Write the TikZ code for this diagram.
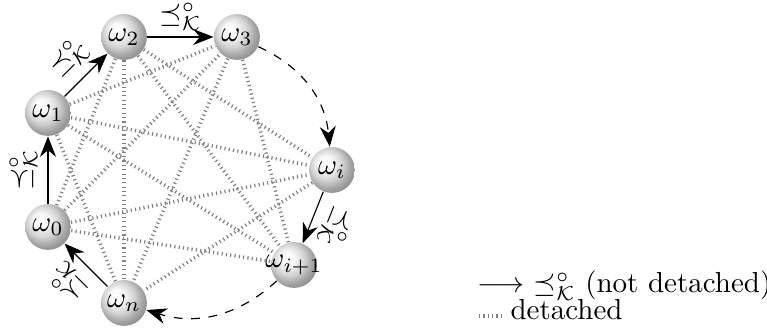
\documentclass[tikz,border=0pt]{standalone}
\usepackage{amsmath,amssymb}
\usetikzlibrary{arrows.meta,backgrounds}
\pgfdeclareradialshading{myball}{\pgfpoint{-9bp}{9bp}}{%
  color(0bp)=(white);
  color(8bp)=(white!97!black);
  color(17bp)=(white!83!black);
  color(24bp)=(white!66!black);
  color(30bp)=(white!55!black);
  color(50bp)=(white!45!black)}
\begin{document}
\begin{tikzpicture}[x=0.345pt,y=-0.345pt,
  ball/.style={circle,shading=myball,minimum size=15.8pt,inner sep=0pt},
  rel/.style={-{Stealth[length=7pt,width=5.5pt]},thin},
  det/.style={black!50,line width=1.2pt,dash pattern=on 0.4pt off 1.1pt},
  lbl/.style={sloped,above,allow upside down,inner sep=3.5pt}]
\useasboundingbox (0,0) rectangle (767,332);
\node[ball] (w2) at (124,37) {$\omega_2$};
\node[ball] (w3) at (237,37) {$\omega_3$};
\node[ball] (w1) at (48,113) {$\omega_1$};
\node[ball] (w0) at (48,227) {$\omega_0$};
\node[ball] (wn) at (124,303) {$\omega_n$};
\node[ball] (wi1) at (294,265) {\makebox[0pt]{$\omega_{i+1}$}};
\node[ball] (wi) at (332,170) {$\omega_i$};
\begin{scope}[on background layer]
\foreach \a/\b in {w0/w2,w0/w3,w0/wi,w0/wi1,w1/w3,w1/wi,w1/wi1,w1/wn,w2/wi,w2/wi1,w2/wn,w3/wi1,w3/wn,wi/wn}
  \draw[det] (\a) -- (\b);
\end{scope}
\draw[rel] (w0) -- node[lbl]{$\preceq^{\circ}_{\mathcal{K}}$} (w1);
\draw[rel] (w1) -- node[lbl]{$\preceq^{\circ}_{\mathcal{K}}$} (w2);
\draw[rel] (w2) -- node[above,inner sep=2pt]{$\preceq^{\circ}_{\mathcal{K}}$} (w3);
\draw[rel] (wi) -- node[lbl]{$\preceq^{\circ}_{\mathcal{K}}$} (wi1);
\draw[rel] (wn) -- node[lbl]{$\preceq^{\circ}_{\mathcal{K}}$} (w0);
\draw[rel,dashed] (w3) to[bend left=30] (wi);
\draw[rel,dashed] (wi1) to[bend left=30] (wn);
\node[anchor=base west,inner sep=0pt] (leg1) at (477,293) {$\longrightarrow$ $\preceq^{\circ}_{\mathcal{K}}$ (not detached)};
\coordinate (d1) at (479,316);
\coordinate (d2) at (504,316);
\draw[det] (d1) -- (d2);
\node[anchor=base west,inner sep=0pt] (leg2) at (510,320) {detached};
\end{tikzpicture}
\end{document}
